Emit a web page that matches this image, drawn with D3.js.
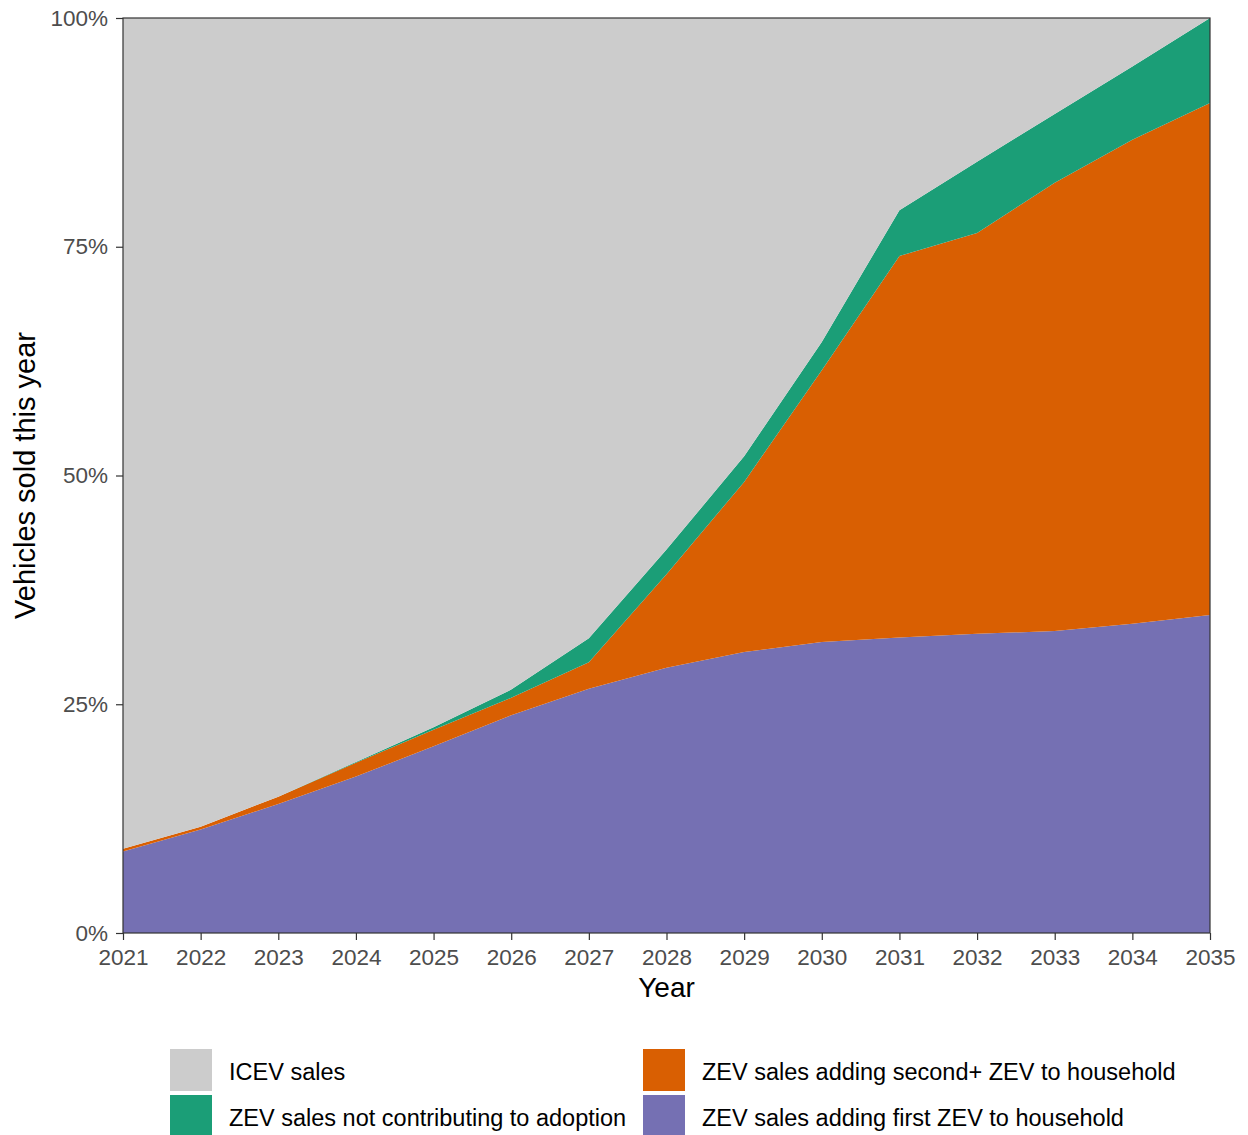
<!DOCTYPE html>
<html><head><meta charset="utf-8">
<script src="https://cdn.jsdelivr.net/npm/d3@7"></script>
<style>body{margin:0;background:#fff}svg{display:block}text{font-family:"Liberation Sans",Arial,sans-serif}</style>
</head><body><svg id="c" width="1248" height="1135"></svg>
<script>
const years = [2021,2022,2023,2024,2025,2026,2027,2028,2029,2030,2031,2032,2033,2034,2035];
const firstZEV = [8.9,11.3,14.1,17.1,20.4,23.8,26.7,29.0,30.7,31.8,32.3,32.7,33.0,33.8,34.75];
const secondZEV = [0.3,0.3,0.8,1.5,1.8,1.9,2.9,10.2,18.6,29.7,41.7,43.8,49.0,52.9,55.95];
const notContrib = [0,0,0,0.1,0.3,0.9,2.6,2.7,2.8,3.1,5.0,7.8,7.5,8.0,9.3];
const yTicks = [0,25,50,75,100];
const seriesKeys = ["first","second","notc","icev"];
const seriesLabels = {icev:"ICEV sales",second:"ZEV sales adding second+ ZEV to household",notc:"ZEV sales not contributing to adoption",first:"ZEV sales adding first ZEV to household"};
const colors = {first:"#7570b3",second:"#d95f02",notc:"#1b9e77",icev:"#cccccc"};

const rows = years.map((y,i)=>({year:y,first:firstZEV[i],second:secondZEV[i],notc:notContrib[i],icev:100-firstZEV[i]-secondZEV[i]-notContrib[i]}));
const svg = d3.select("#c");
const L=123,R=1210,T=18,B=933;
const x = d3.scaleLinear().domain([2021,2035]).range([L,R]);
const y = d3.scaleLinear().domain([0,100]).range([B,T]);
const stack = d3.stack().keys(seriesKeys)(rows);
const area = d3.area().x(d=>x(d.data.year)).y0(d=>y(d[0])).y1(d=>y(d[1]));
svg.append("g").selectAll("path").data(stack).join("path").attr("d",area).attr("fill",d=>colors[d.key]);

svg.append("rect").attr("x",L).attr("y",T).attr("width",R-L).attr("height",B-T).attr("fill","none").attr("stroke","#333").attr("stroke-width",1.2);

const xa = svg.append("g").attr("transform",`translate(0,${B})`).call(d3.axisBottom(x).tickValues(years).tickFormat(d3.format("d")).tickSize(7).tickPadding(9));
const ya = svg.append("g").attr("transform",`translate(${L},0)`).call(d3.axisLeft(y).tickValues(yTicks).tickFormat(d=>d+"%").tickSize(7).tickPadding(8));
[xa,ya].forEach(a=>{a.select(".domain").remove();a.selectAll("line").attr("stroke","#333").attr("stroke-width",1.2);a.selectAll("text").attr("fill","#4d4d4d").style("font-size","22.5px");});

svg.append("text").attr("x",(L+R)/2).attr("y",997).attr("text-anchor","middle").style("font-size","28px").attr("fill","#000").text("Year");
svg.append("text").attr("transform",`translate(35,${(T+B)/2}) rotate(-90)`).attr("text-anchor","middle").style("font-size","29px").attr("fill","#000").text("Vehicles sold this year");

const legendItems = [["icev",170,1049],["second",643,1049],["notc",170,1095],["first",643,1095]];
const lg = svg.append("g");
legendItems.forEach(([k,lx,ly])=>{
  lg.append("rect").attr("x",lx).attr("y",ly).attr("width",42).attr("height",42).attr("fill",colors[k]);
  lg.append("text").attr("x",lx+59).attr("y",ly+31).style("font-size","23.5px").attr("fill","#000").text(seriesLabels[k]);
});
</script></body></html>
